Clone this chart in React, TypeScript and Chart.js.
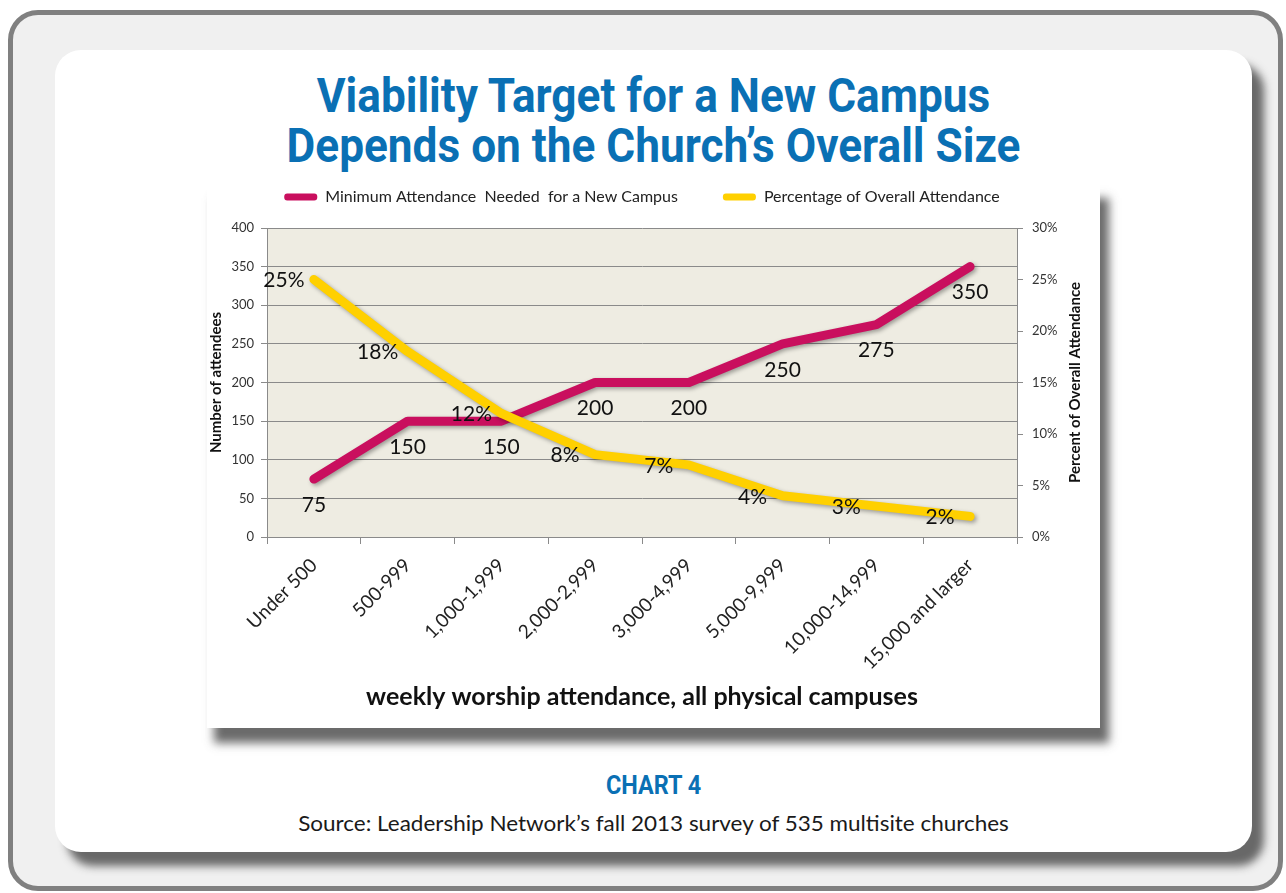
import React, { useEffect, useRef } from "react";
import { Chart, registerables } from "chart.js";

Chart.register(...registerables);

const categories = [
  "Under 500",
  "500-999",
  "1,000-1,999",
  "2,000-2,999",
  "3,000-4,999",
  "5,000-9,999",
  "10,000-14,999",
  "15,000 and larger",
];
const minAttendance = [75, 150, 150, 200, 200, 250, 275, 350];
const pctAttendance = [25, 18, 12, 8, 7, 4, 3, 2];

const seriesNames = [
  "Minimum Attendance  Needed  for a New Campus",
  "Percentage of Overall Attendance",
];
const leftAxis = { min: 0, max: 400, step: 50, title: "Number of attendees" };
const rightAxis = { min: 0, max: 30, step: 5, title: "Percent of Overall Attendance" };
const xTitle = "weekly worship attendance, all physical campuses";

const MAGENTA = "#c90f5e";
const YELLOW = "#ffd000";
const GRID = "#8a8a8a";
const FONT = "Lato";

const bgPlugin = {
  id: "plotBg",
  beforeDraw(chart: any) {
    const { ctx, chartArea } = chart;
    ctx.save();
    ctx.fillStyle = "#eeece2";
    ctx.fillRect(chartArea.left, chartArea.top, chartArea.right - chartArea.left, chartArea.bottom - chartArea.top);
    ctx.restore();
  },
};

const shadowPlugin = {
  id: "lineShadow",
  beforeDatasetDraw(chart: any) {
    const ctx = chart.ctx;
    ctx.save();
    ctx.shadowColor = "rgba(0,0,0,0.35)";
    ctx.shadowBlur = 4;
    ctx.shadowOffsetX = 2;
    ctx.shadowOffsetY = 2;
  },
  afterDatasetDraw(chart: any) {
    chart.ctx.restore();
  },
};

const labelPlugin = {
  id: "dataLabelsCustom",
  afterDatasetsDraw(chart: any) {
    const ctx = chart.ctx;
    ctx.save();
    ctx.font = `21px ${FONT}`;
    ctx.fillStyle = "#111";
    ctx.textAlign = "center";
    ctx.textBaseline = "middle";
    chart.data.datasets.forEach((ds: any, i: number) => {
      const meta = chart.getDatasetMeta(i);
      meta.data.forEach((pt: any, j: number) => {
        const v = ds.data[j];
        if (i === 0) ctx.fillText(String(v), pt.x, pt.y + 26);
        else ctx.fillText(v + "%", pt.x - 30, pt.y + 1);
      });
    });
    ctx.restore();
  },
};

const rightTitlePlugin = {
  id: "rightTitle",
  afterDraw(chart: any) {
    const { ctx, chartArea } = chart;
    const sc = chart.scales.y1;
    ctx.save();
    ctx.font = `bold 15px ${FONT}`;
    ctx.fillStyle = "#111";
    ctx.textAlign = "center";
    ctx.textBaseline = "middle";
    ctx.translate(sc.right - 25, (chartArea.top + chartArea.bottom) / 2);
    ctx.rotate(-Math.PI / 2);
    ctx.fillText(rightAxis.title, 0, 0);
    ctx.restore();
  },
};

function ChartPanel() {
  const ref = useRef<HTMLCanvasElement | null>(null);
  useEffect(() => {
    if (!ref.current) return;
    const chart = new Chart(ref.current, {
      type: "line",
      data: {
        labels: categories,
        datasets: [
          {
            label: seriesNames[0],
            data: minAttendance,
            borderColor: MAGENTA,
            backgroundColor: MAGENTA,
            borderWidth: 9,
            pointRadius: 0,
            borderCapStyle: "round",
            borderJoinStyle: "round",
            yAxisID: "y",
            order: 1,
          },
          {
            label: seriesNames[1],
            data: pctAttendance,
            borderColor: YELLOW,
            backgroundColor: YELLOW,
            borderWidth: 9,
            pointRadius: 0,
            borderCapStyle: "round",
            borderJoinStyle: "round",
            yAxisID: "y1",
            order: 0,
          },
        ],
      },
      options: {
        animation: false,
        responsive: false,
        maintainAspectRatio: false,
        layout: { padding: 0 },
        plugins: {
          title: {
            display: true,
            text: "",
            position: "top",
            weight: 500,
            fullSize: false,
            padding: 0,
            font: { size: 13, lineHeight: 1 },
          },
          legend: {
            position: "top",
            fullSize: false,
            reverse: true,
            labels: {
              boxWidth: 33,
              boxHeight: 7,
              useBorderRadius: true,
              borderRadius: 3,
              color: "#222",
              padding: 4,
              font: { family: FONT, size: 16 },
              generateLabels: (chart: any) => {
                const metas = chart._getSortedDatasetMetas();
                return metas.map((m: any) => {
                  const ds = chart.data.datasets[m.index];
                  return {
                    text: m.index === 0 ? ds.label + "          " : ds.label,
                    fillStyle: ds.borderColor,
                    strokeStyle: ds.borderColor,
                    lineWidth: 0,
                    hidden: false,
                    datasetIndex: m.index,
                    fontColor: "#222",
                    borderRadius: 3,
                  };
                });
              },
            },
          },
          tooltip: { enabled: false },
        },
        scales: {
          x: {
            offset: true,
            grid: { offset: true, drawOnChartArea: false, drawTicks: true, tickLength: 7, color: GRID },
            border: { color: GRID },
            ticks: {
              minRotation: 45,
              maxRotation: 45,
              autoSkip: false,
              color: "#222",
              padding: 10,
              font: { family: FONT, size: 19 },
            },
            title: {
              display: true,
              text: xTitle,
              color: "#111",
              font: { family: FONT, size: 25, weight: "bold" },
              padding: { top: 0, bottom: 16 },
            },
            afterFit: (s: any) => {
              s.height = 191;
              s.paddingLeft = 0;
              s.paddingRight = 0;
            },
          },
          y: {
            position: "left",
            min: leftAxis.min,
            max: leftAxis.max,
            ticks: { stepSize: leftAxis.step, color: "#333", padding: 7, font: { family: FONT, size: 13 } },
            grid: { color: GRID, tickLength: 6 },
            border: { color: GRID },
            title: {
              display: true,
              text: leftAxis.title,
              color: "#111",
              font: { family: FONT, size: 15, weight: "bold" },
              padding: { top: 0, bottom: 0 },
            },
            afterFit: (s: any) => {
              s.width = 60;
              s.paddingTop = 43;
            },
          },
          y1: {
            position: "right",
            min: rightAxis.min,
            max: rightAxis.max,
            ticks: {
              stepSize: rightAxis.step,
              color: "#333",
              padding: 9,
              font: { family: FONT, size: 13 },
              callback: (v: any) => v + "%",
            },
            grid: { drawOnChartArea: false, color: GRID, tickLength: 6 },
            border: { color: GRID },
            afterFit: (s: any) => {
              s.width = 83;
            },
          },
        },
      } as any,
      plugins: [bgPlugin, shadowPlugin, labelPlugin, rightTitlePlugin],
    });
    return () => chart.destroy();
  }, []);
  return <canvas ref={ref} width={893} height={543} style={{ display: "block", width: 893, height: 543 }} />;
}

export default function App() {
  return (
    <div style={{ position: "absolute", left: 0, top: 0, width: 1286, height: 893, background: "#ffffff", overflow: "hidden" }}>
      <div
        style={{
          position: "absolute",
          left: 8,
          top: 10,
          width: 1275,
          height: 881,
          boxSizing: "border-box",
          border: "5px solid #808080",
          borderRadius: 30,
          background: "#f0f0f0",
        }}
      />
      <div
        style={{
          position: "absolute",
          left: 55,
          top: 50,
          width: 1197,
          height: 802,
          borderRadius: 26,
          background: "#ffffff",
          boxShadow: "12px 14px 8px rgba(80,80,80,0.85)",
        }}
      />
      <div
        style={{
          position: "absolute",
          left: 0,
          width: 1307,
          top: 71,
          textAlign: "center",
          fontFamily: "Roboto",
          fontWeight: 700,
          fontSize: 48,
          lineHeight: "50px",
          color: "#0a70b4",
        }}
      >
        <div style={{ transform: "scaleX(0.92)", transformOrigin: "center" }}>Viability Target for a New Campus</div>
        <div style={{ transform: "scaleX(0.92)", transformOrigin: "center" }}>Depends on the Church’s Overall Size</div>
      </div>
      <div
        style={{
          position: "absolute",
          left: 207,
          top: 185,
          width: 893,
          height: 543,
          background: "#ffffff",
          boxShadow: "8px 14px 9px 1px rgba(70,70,70,0.8)",
        }}
      >
        <ChartPanel />
      </div>
      <div
        style={{
          position: "absolute",
          left: 0,
          width: 1307,
          top: 772,
          textAlign: "center",
          fontFamily: "Roboto",
          fontWeight: 700,
          fontSize: 26,
          lineHeight: "26px",
          color: "#0a70b4",
          transform: "scaleX(0.9)",
        }}
      >
        CHART 4
      </div>
      <div
        style={{
          position: "absolute",
          left: 0,
          width: 1307,
          top: 811,
          textAlign: "center",
          fontFamily: FONT,
          fontSize: 21,
          lineHeight: "24px",
          color: "#1a1a1a",
          transform: "scaleX(1.07)",
        }}
      >
        Source: Leadership Network’s fall 2013 survey of 535 multisite churches
      </div>
    </div>
  );
}
